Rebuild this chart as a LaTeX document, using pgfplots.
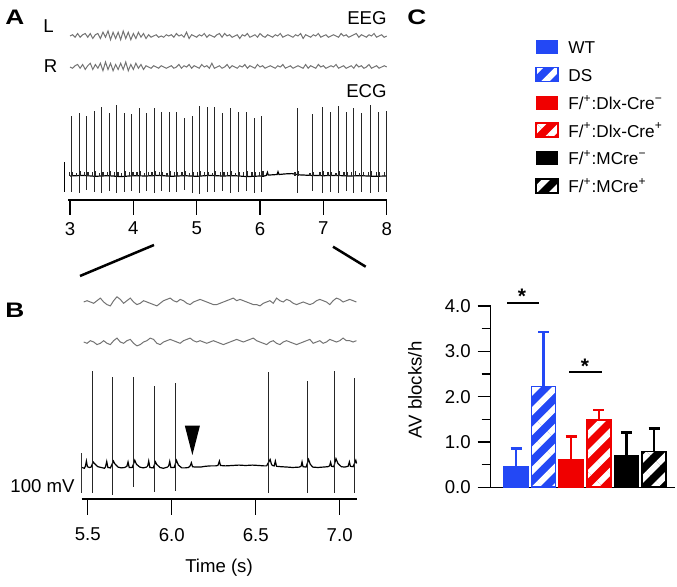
\documentclass[border=0pt]{standalone}
\usepackage{fontspec}
\setmainfont{Liberation Sans}
\usepackage{pgfplots}
\pgfplotsset{compat=1.18}
\usepackage{pgfplotstable}
\usetikzlibrary{patterns.meta}
\definecolor{wtblue}{RGB}{35,72,245}
\definecolor{flred}{RGB}{240,0,0}
\definecolor{eeggray}{RGB}{115,115,115}
\newcommand{\fs}{\fontsize{9.3pt}{11pt}\selectfont}
\newcommand{\fl}{\fontsize{8.6pt}{10pt}\selectfont}
\newcommand{\fb}{\fontsize{10.5pt}{12pt}\selectfont\bfseries}
\tikzset{hatch/.style={pattern={Lines[angle=45,distance=7pt,line width=3pt]},pattern color=white}}

% beats of the ECG in panel A: time (s), R peak, S trough, P wave, T wave (mV)
\pgfplotstableread{
t top bot p tw
3.021 201 -52 12 14
3.142 211 -56 10 15
3.264 200 -48 14 12
3.384 218 -55 12 15
3.502 231 -58 11 13
3.622 211 -50 13 15
3.739 237 -57 12 14
3.854 209 -52 10 16
3.976 207 -49 14 12
4.092 226 -57 12 15
4.214 209 -51 11 13
4.329 226 -58 13 16
4.445 214 -50 12 14
4.566 212 -55 10 15
4.682 212 -52 14 13
4.804 192 -47 12 16
4.926 201 -56 11 14
5.046 233 -59 13 15
5.163 229 -52 12 13
5.283 229 -55 10 16
5.410 209 -50 14 14
5.527 228 -57 12 15
5.653 214 -53 11 13
5.780 214 -49 13 16
5.907 192 -56 12 14
6.027 201 -52 12 15
6.587 228 -57 12 16
6.824 206 -50 11 14
6.983 230 -58 13 15
7.109 214 -52 12 13
7.236 234 -56 10 16
7.362 214 -51 14 14
7.483 228 -57 12 15
7.609 209 -53 11 13
7.742 237 -58 13 16
7.869 214 -52 12 14
8.000 217 -55 12 0
}\beatsA

% beats of the ECG in panel B
\pgfplotstableread{
t top bot
5.526 241 -63
5.647 226 -69
5.774 226 -48
5.897 204 -61
6.022 211 -60
6.579 238 -63
6.810 216 -63
6.972 241 -63
7.091 223 -64
}\beatsB

\pgfplotsset{
  trace/.style={hide axis, scale only axis, clip=false},
  eeg/.style={eeggray, line width=0.5pt, no markers},
  spike/.style={ycomb, black!85, line width=0.5pt, no markers},
  base/.style={black, line width=0.6pt, no markers},
  timeaxis/.style={scale only axis, clip=false, axis x line=bottom, axis y line=none,
    x axis line style={-, line width=0.65pt}, tick align=outside,
    major tick length=7.5pt, tick style={line width=0.65pt, black},
    xticklabel style={font=\fs}, /pgf/number format/assume math mode=true},
  avbar/.style={ybar, bar width=12pt, bar shift=0pt, fill=#1, draw=#1, line width=0.8pt,
    error bars/y dir=plus, error bars/y explicit,
    error bars/error bar style={line width=1.2pt, draw=#1, solid},
    error bars/error mark options={rotate=90, mark size=2.75pt, line width=1.2pt, draw=#1}},
  avhatch/.style={ybar, bar width=12pt, bar shift=0pt, draw=#1, line width=0.8pt,
    pattern={Lines[angle=45,distance=7pt,line width=3pt]}, pattern color=white},
}

\begin{document}
\begin{tikzpicture}
\useasboundingbox (0,0) rectangle (338.5pt,-293.5pt);

% ---------- panel A ----------
\begin{axis}[trace, at={(34.15pt,-23pt)}, anchor=south west, width=159.2pt, height=10pt,
  xmin=2.973, xmax=8, ymin=-8, ymax=8]
\addplot[eeg] table[row sep=\\, x expr=3+0.04*\coordindex, y=v] {v\\
0\\ 1\\ -1\\ 2\\ -1\\ 1\\ 2\\ -1\\ 2\\ -2\\
1\\ 2\\ -2\\ 3\\ -1\\ 4\\ -3\\ 3\\ -2\\ 3\\
-3\\ 4\\ -2\\ 3\\ -3\\ 2\\ -2\\ 3\\ -1\\ 2\\
-2\\ 1\\ -1\\ 0\\ 1\\ -1\\ 0\\ -1\\ 1\\ 0\\
1\\ -1\\ 2\\ 0\\ 1\\ -1\\ 3\\ -2\\ 1\\ 0\\
-1\\ 1\\ 0\\ 2\\ -1\\ 1\\ 0\\ -1\\ 1\\ 2\\
-1\\ 2\\ 0\\ 1\\ -1\\ 0\\ 1\\ -2\\ 1\\ 0\\
2\\ -1\\ 0\\ 1\\ -1\\ 2\\ 0\\ -1\\ 1\\ 0\\
-1\\ 1\\ 0\\ 2\\ -1\\ 0\\ 1\\ 0\\ -1\\ 1\\
0\\ 2\\ -2\\ 1\\ 0\\ -1\\ 1\\ 0\\ 2\\ -1\\
0\\ 1\\ -1\\ 0\\ 1\\ 0\\ -1\\ 2\\ 0\\ 1\\
-1\\ 0\\ 1\\ 2\\ -1\\ 1\\ 0\\ -1\\ 1\\ 0\\
2\\ -1\\ 0\\ 1\\ -1\\ 0\\
};
\end{axis}

\begin{axis}[trace, at={(34.15pt,-38.5pt)}, anchor=south west, width=159.2pt, height=10pt,
  xmin=2.973, xmax=8, ymin=-8, ymax=8]
\addplot[eeg] table[row sep=\\, x expr=3+0.04*\coordindex, y=v] {v\\
0\\ -1\\ 1\\ 2\\ -1\\ 2\\ -2\\ 1\\ 3\\ -2\\
2\\ -1\\ 3\\ -3\\ 4\\ -2\\ 3\\ -3\\ 2\\ -2\\
3\\ -2\\ 4\\ -3\\ 2\\ -2\\ 3\\ -1\\ 2\\ -2\\
1\\ 0\\ -1\\ 1\\ 0\\ -1\\ 1\\ 0\\ -1\\ 0\\
1\\ -1\\ 0\\ 2\\ -1\\ 1\\ 0\\ 2\\ -1\\ 1\\
0\\ -1\\ 2\\ 0\\ 1\\ -1\\ 3\\ -1\\ 0\\ 1\\
-1\\ 0\\ 2\\ -1\\ 1\\ 0\\ -1\\ 1\\ 0\\ 2\\
-1\\ 1\\ 0\\ -1\\ 2\\ 0\\ 1\\ -1\\ 0\\ 1\\
0\\ -1\\ 1\\ 0\\ 2\\ -1\\ 0\\ 1\\ -1\\ 0\\
1\\ 0\\ -1\\ 2\\ -1\\ 1\\ 0\\ -1\\ 2\\ 0\\
1\\ -1\\ 0\\ 1\\ 0\\ 2\\ -1\\ 0\\ 1\\ -1\\
0\\ 1\\ -1\\ 2\\ 0\\ 1\\ -1\\ 0\\ 2\\ -1\\
0\\ 1\\ -1\\ 0\\ 1\\ 0\\
};
\end{axis}

\begin{axis}[timeaxis, at={(34.15pt,-100pt)}, anchor=south west, width=159.2pt, height=50pt,
  xmin=2.973, xmax=8, ymin=-80, ymax=253.33, xtick={3,4,5,6,7,8}]
\addplot[base] coordinates {(3.0,0) (3.2,2) (3.4,-1) (3.6,1) (3.8,-2) (4.0,1) (4.2,0)
  (4.4,2) (4.6,-1) (4.8,1) (5.0,-1) (5.2,2) (5.4,0) (5.6,1) (5.8,-2) (6.0,0) (6.05,-1)
  (6.10,2) (6.117,12) (6.13,3) (6.2,4) (6.27,5) (6.284,14) (6.30,5) (6.4,7) (6.5,8)
  (6.56,6) (6.6,4) (6.7,3) (6.8,2) (7.0,1) (7.2,2) (7.4,0) (7.6,1) (7.8,-1) (8.0,0)};
\addplot[spike] table[x=t, y=top] {\beatsA};
\addplot[spike] table[x=t, y=bot] {\beatsA};
\addplot[spike, line width=0.6pt] table[x expr=\thisrow{t}-0.035, y=p] {\beatsA};
\addplot[spike, line width=0.6pt] table[x expr=\thisrow{t}+0.02, y=tw] {\beatsA};
\draw[line width=0.7pt] (axis cs:2.91,-52) -- (axis cs:2.91,48);
\end{axis}

% ---------- panel B ----------
\begin{axis}[trace, at={(40.85pt,-156pt)}, anchor=south west, width=137.8pt, height=10pt,
  xmin=5.464, xmax=7.105, ymin=-7.7, ymax=7.7]
\addplot[eeg] table[row sep=\\, x expr=5.476+0.0198*\coordindex, y=v] {v\\
0\\ 1\\ 0\\ -1\\ 1\\ 3\\ 0\\ -2\\ -3\\ 1\\
4\\ 2\\ -1\\ 1\\ 3\\ 0\\ -2\\ -1\\ 1\\ 0\\
-1\\ -2\\ -3\\ -1\\ 1\\ 2\\ 3\\ 1\\ 0\\ 2\\
1\\ -1\\ -2\\ 0\\ 1\\ 2\\ 1\\ 0\\ -1\\ -2\\
-2\\ -1\\ 0\\ 1\\ 2\\ 3\\ 1\\ 2\\ 1\\ 0\\
-1\\ -2\\ -2\\ -3\\ -1\\ 0\\ 1\\ -1\\ 3\\ 1\\
0\\ 2\\ 1\\ -1\\ -2\\ -1\\ 0\\ -1\\ -2\\ -1\\
1\\ 2\\ 1\\ 0\\ -2\\ 1\\ 3\\ 2\\ 0\\ 1\\
2\\ 1\\ 0\\
};
\end{axis}

\begin{axis}[trace, at={(40.85pt,-176pt)}, anchor=south west, width=137.8pt, height=10pt,
  xmin=5.464, xmax=7.105, ymin=-7.7, ymax=7.7]
\addplot[eeg] table[row sep=\\, x expr=5.476+0.0198*\coordindex, y=v] {v\\
0\\ -1\\ 1\\ 0\\ -2\\ -1\\ 1\\ -1\\ -2\\ 1\\
3\\ 0\\ -1\\ 1\\ 2\\ -1\\ -3\\ -2\\ 0\\ 1\\
3\\ 2\\ -1\\ -2\\ 0\\ 1\\ 2\\ 1\\ 0\\ -1\\
1\\ 2\\ 3\\ 1\\ 0\\ 1\\ 0\\ -1\\ 0\\ 1\\
0\\ -1\\ -2\\ -1\\ 0\\ 1\\ 2\\ 1\\ 0\\ 1\\
2\\ 3\\ 1\\ 0\\ -1\\ -2\\ 0\\ 1\\ -1\\ -2\\
0\\ 1\\ 0\\ -1\\ -2\\ -1\\ 0\\ 1\\ 2\\ -1\\
0\\ 1\\ -1\\ 0\\ 2\\ 1\\ 0\\ 1\\ 3\\ 1\\
1\\ 0\\ 1\\
};
\end{axis}

\begin{axis}[timeaxis, at={(40.85pt,-249.5pt)}, anchor=south west, width=137.8pt, height=67pt,
  xmin=5.464, xmax=7.105, ymin=-78.75, ymax=256.25, xtick={5.5,6.0,6.5,7.0},
  major tick length=8pt,
  xticklabel style={yshift=-3pt, /pgf/number format/.cd, fixed, fixed zerofill, precision=1}]
\addplot[base] coordinates {(5.466,0) (5.480,-2) (5.486,3) (5.492,16) (5.498,2) (5.51,0)
  (5.52,1) (5.532,14) (5.54,10) (5.56,2) (5.58,0) (5.60,-2) (5.606,2) (5.613,15) (5.620,0)
  (5.635,-1) (5.653,16) (5.66,10) (5.68,1) (5.70,-1) (5.72,0) (5.733,3) (5.740,14) (5.747,0)
  (5.765,0) (5.780,18) (5.79,8) (5.81,1) (5.83,-1) (5.85,1) (5.857,4) (5.863,16) (5.870,0)
  (5.89,-1) (5.903,14) (5.91,8) (5.93,0) (5.95,-2) (5.975,1) (5.982,4) (5.988,15) (5.995,0)
  (6.015,0) (6.028,18) (6.04,6) (6.06,-1) (6.08,-1) (6.10,0) (6.110,4) (6.117,12) (6.124,2)
  (6.14,1) (6.17,1) (6.20,3) (6.23,4) (6.26,4) (6.275,5) (6.284,16) (6.29,5) (6.32,4)
  (6.36,5) (6.40,6) (6.44,5) (6.48,6) (6.52,5) (6.55,4) (6.565,4) (6.586,20) (6.594,8)
  (6.60,5) (6.61,4) (6.617,16) (6.624,3) (6.65,2) (6.69,1) (6.72,0) (6.76,1) (6.770,3)
  (6.776,14) (6.782,2) (6.80,1) (6.815,20) (6.825,8) (6.84,1) (6.87,0) (6.90,1) (6.93,2)
  (6.940,4) (6.946,13) (6.952,3) (6.965,2) (6.978,22) (6.99,10) (7.01,2) (7.03,1) (7.05,3)
  (7.058,14) (7.064,3) (7.08,2) (7.096,18) (7.101,10)};
\addplot[spike] table[x=t, y=top] {\beatsB};
\addplot[spike] table[x=t, y=bot] {\beatsB};
\draw[line width=0.6pt, black!80] (axis cs:5.464,-63.75) -- (axis cs:5.464,36.25);
\fill (axis cs:6.078,104.5) -- (axis cs:6.168,104.5) -- (axis cs:6.123,31) -- cycle;
\end{axis}

% ---------- panel C ----------
\begin{axis}[scale only axis, at={(245.35pt,-243.65pt)}, anchor=south west,
  width=92.15pt, height=90.65pt, xmin=0.083, xmax=6.76, ymin=0, ymax=4, clip=false,
  axis lines=left, axis line style={-, line width=0.6pt},
  xtick=\empty, ytick={0,1,2,3,4}, minor ytick={0.5,1.5,2.5,3.5},
  tick align=outside, major tick length=6.5pt, minor tick length=4.5pt,
  tick style={line width=0.6pt, black},
  yticklabel style={font=\fs, /pgf/number format/.cd, fixed, fixed zerofill, precision=1,
    assume math mode=true}]
\addplot[avbar=wtblue] coordinates {(1,0.45) +- (0,0.41)};
\addplot[avbar=wtblue] coordinates {(2,2.22) +- (0,1.21)};
\addplot[avhatch=wtblue] coordinates {(2,2.22)};
\addplot[avbar=flred] coordinates {(3,0.60) +- (0,0.52)};
\addplot[avbar=flred] coordinates {(4,1.49) +- (0,0.22)};
\addplot[avhatch=flred] coordinates {(4,1.49)};
\addplot[avbar=black] coordinates {(5,0.70) +- (0,0.51)};
\addplot[avbar=black] coordinates {(6,0.79) +- (0,0.51)};
\addplot[avhatch=black] coordinates {(6,0.79)};
\draw[line width=1pt] (axis cs:0.674,4.07) -- (axis cs:1.833,4.07);
\node[anchor=base, inner sep=0, font=\fb] at (axis cs:1.22,4.05) {*};
\draw[line width=1pt] (axis cs:2.92,2.55) -- (axis cs:4.12,2.55);
\node[anchor=base, inner sep=0, font=\fb] at (axis cs:3.5,2.5) {*};
\end{axis}

% ---------- labels and legend (pixel grid of the reference) ----------
\begin{scope}[x=0.5pt, y=-0.5pt]
\node[anchor=base west, inner sep=0, font=\fb] at (5,25) {\scalebox{1.25}[1]{A}};
\node[anchor=base west, inner sep=0, font=\fs] at (43,33) {L};
\node[anchor=base west, inner sep=0, font=\fs] at (43.5,73) {R};
\node[anchor=base east, inner sep=0, font=\fs] at (387,25) {EEG};
\node[anchor=base east, inner sep=0, font=\fs] at (387,98) {ECG};
\draw[line width=1.25pt] (80,276) -- (154,245);
\draw[line width=1.25pt] (333,246.7) -- (365.7,266.7);
\node[anchor=base west, inner sep=0, font=\fb] at (5,318) {\scalebox{1.25}[1]{B}};
\node[anchor=base east, inner sep=0, font=\fs] at (75,493) {100 mV};
\node[anchor=base, inner sep=0, font=\fs] at (219,573) {Time (s)};
\node[anchor=base west, inner sep=0, font=\fb] at (407,25) {\scalebox{1.25}[1]{C}};
\node[rotate=90, inner sep=0, font=\fs] at (415,390) {AV blocks/h};
% legend
\fill[wtblue] (536,40) rectangle (558,54);
\node[anchor=base west, inner sep=0, font=\fl] at (568,54) {WT};
\fill[wtblue] (536,67.7) rectangle (558,81.7);
\fill[hatch] (536,67.7) rectangle (558,81.7);
\draw[wtblue, line width=0.8pt] (536,67.7) rectangle (558,81.7);
\node[anchor=base west, inner sep=0, font=\fl] at (568,81.7) {DS};
\fill[flred] (536,96) rectangle (558,110);
\node[anchor=base west, inner sep=0, font=\fl] at (568,110) {F/\textsuperscript{+}:Dlx-Cre\textsuperscript{−}};
\fill[flred] (536,123.3) rectangle (558,137.3);
\fill[hatch] (536,123.3) rectangle (558,137.3);
\draw[flred, line width=0.8pt] (536,123.3) rectangle (558,137.3);
\node[anchor=base west, inner sep=0, font=\fl] at (568,137.3) {F/\textsuperscript{+}:Dlx-Cre\textsuperscript{+}};
\fill[black] (536,151) rectangle (558,165);
\node[anchor=base west, inner sep=0, font=\fl] at (568,165) {F/\textsuperscript{+}:MCre\textsuperscript{−}};
\fill[black] (536,179) rectangle (558,193);
\fill[hatch] (536,179) rectangle (558,193);
\draw[black, line width=0.8pt] (536,179) rectangle (558,193);
\node[anchor=base west, inner sep=0, font=\fl] at (568,192.7) {F/\textsuperscript{+}:MCre\textsuperscript{+}};
\end{scope}
\end{tikzpicture}
\end{document}
